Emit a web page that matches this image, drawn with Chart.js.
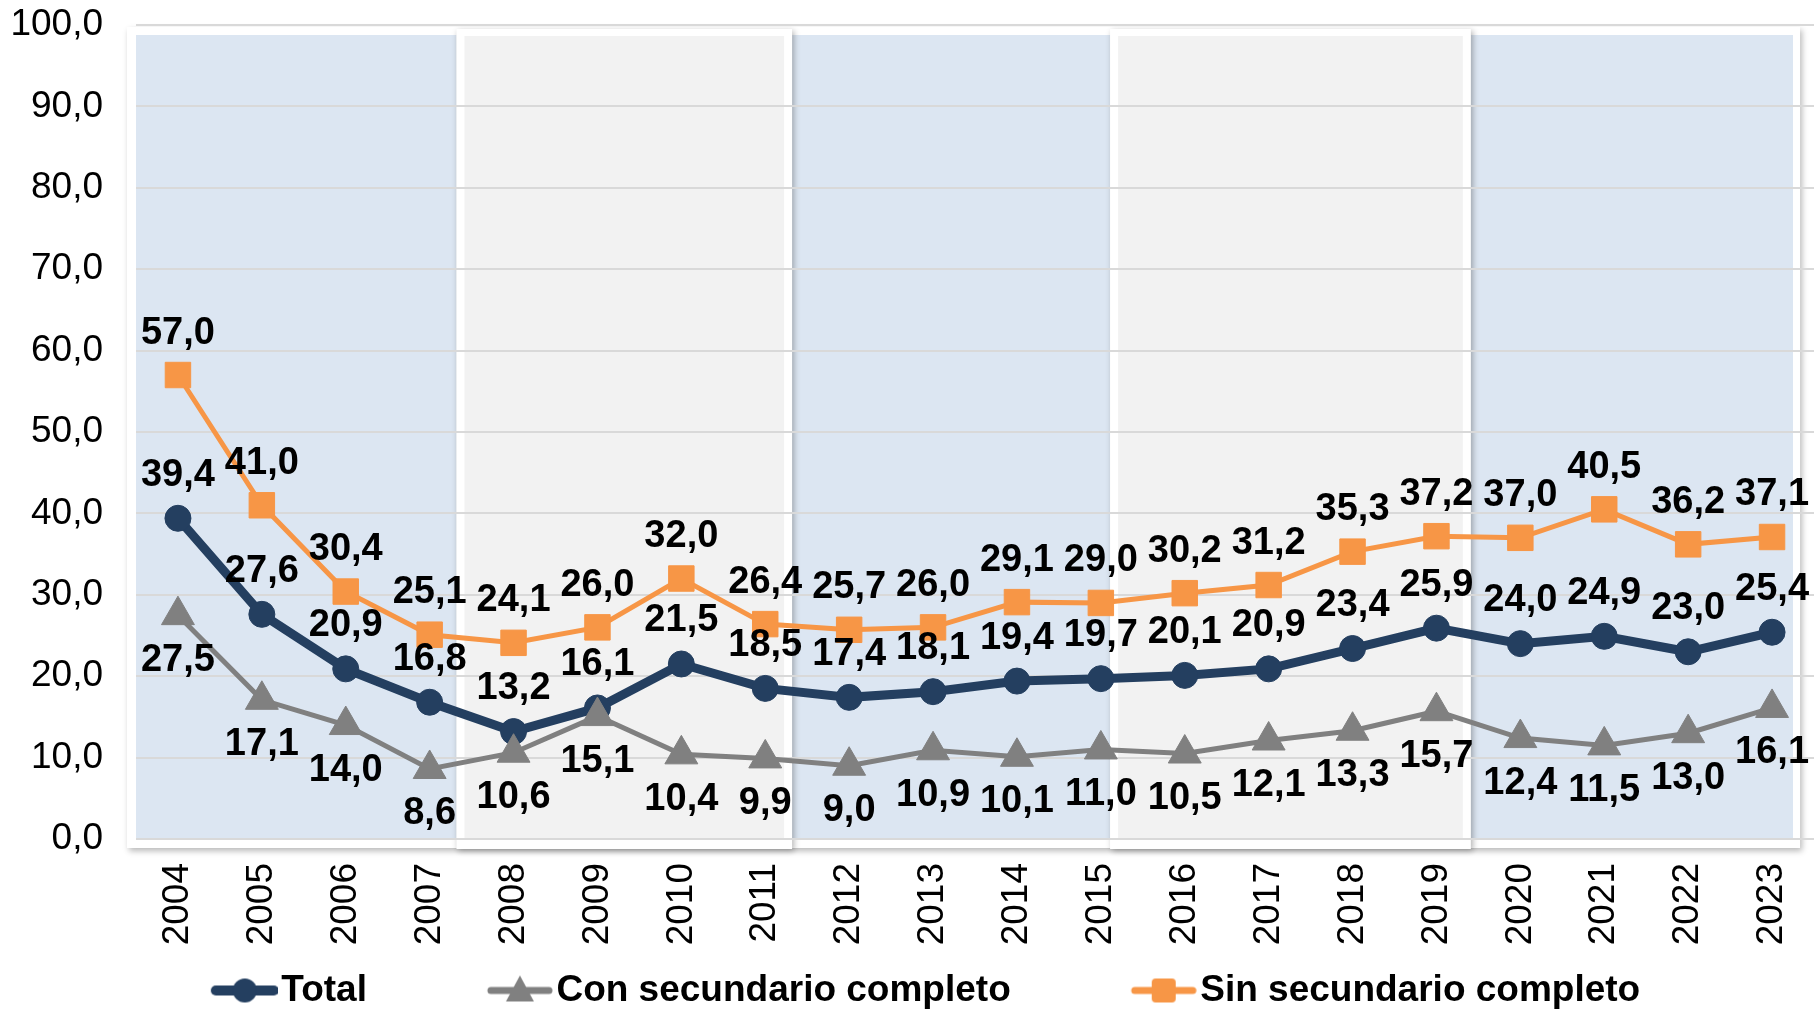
<!DOCTYPE html>
<html>
<head>
<meta charset="UTF-8">
<title>Tasa por nivel educativo 2004-2023</title>
<script src="https://cdn.jsdelivr.net/npm/chart.js@4.4.1/dist/chart.umd.min.js"></script>
<style>
  html, body { margin: 0; padding: 0; background: #fff; }
  #caja { width: 1814px; height: 1011px; }
</style>
</head>
<body>
<div id="caja"><canvas id="grafica"></canvas></div>
<script>
// datos
const anios = ['2004', '2005', '2006', '2007', '2008', '2009', '2010', '2011', '2012', '2013',
               '2014', '2015', '2016', '2017', '2018', '2019', '2020', '2021', '2022', '2023'];
const total = [39.4, 27.6, 20.9, 16.8, 13.2, 16.1, 21.5, 18.5, 17.4, 18.1,
               19.4, 19.7, 20.1, 20.9, 23.4, 25.9, 24.0, 24.9, 23.0, 25.4];
const conSecundario = [27.5, 17.1, 14.0, 8.6, 10.6, 15.1, 10.4, 9.9, 9.0, 10.9,
                       10.1, 11.0, 10.5, 12.1, 13.3, 15.7, 12.4, 11.5, 13.0, 16.1];
const sinSecundario = [57.0, 41.0, 30.4, 25.1, 24.1, 26.0, 32.0, 26.4, 25.7, 26.0,
                       29.1, 29.0, 30.2, 31.2, 35.3, 37.2, 37.0, 40.5, 36.2, 37.1];
const ejeY = { min: 0, max: 100, paso: 10 };

// franjas del fondo, en unidades de categoria
const franjas = [
  { desde: -0.5,  hasta: 3.32,  tipo: 'azul' },
  { desde: 3.32,  hasta: 7.32,  tipo: 'gris' },
  { desde: 7.32,  hasta: 11.11, tipo: 'azul' },
  { desde: 11.11, hasta: 15.41, tipo: 'gris' },
  { desde: 15.41, hasta: 19.25, tipo: 'azul' }
];

const AZUL = '#243F60', GRIS = '#808080', NARANJA = '#F79646';
const FUENTE = '"Liberation Sans", Arial, sans-serif';
const CAJA_LEYENDA = 167;

const coma = v => v.toFixed(1).replace('.', ',');

// icono de la leyenda: tramo de linea con su marcador
function icono(estilo, color, grosor) {
  const c = document.createElement('canvas');
  c.width = CAJA_LEYENDA + 30;
  c.height = 36;
  const g = c.getContext('2d');
  const x1 = c.width - 62, x2 = c.width - 4, cx = (x1 + x2) / 2, cy = 18;
  g.strokeStyle = color;
  g.fillStyle = color;
  g.lineWidth = grosor;
  g.lineCap = 'round';
  g.beginPath(); g.moveTo(x1, cy); g.lineTo(x2, cy); g.stroke();
  g.beginPath();
  if (estilo === 'circle') {
    g.arc(cx, cy, 12, 0, Math.PI * 2);
  } else if (estilo === 'triangle') {
    g.moveTo(cx, cy - 15); g.lineTo(cx + 14, cy + 11); g.lineTo(cx - 14, cy + 11); g.closePath();
  } else {
    g.roundRect(cx - 12, cy - 12, 24, 24, 4);
  }
  g.fill();
  return c;
}

const fondo = {
  id: 'fondo',
  afterLayout(chart) {
    // la leyenda queda algo corrida a la izquierda
    chart.legend.right -= 88;
  },
  beforeDraw(chart) {
    const { ctx, chartArea: a, scales: { x, y } } = chart;
    const arriba = y.getPixelForValue(ejeY.max);
    const cero = y.getPixelForValue(0);
    const fin = x.getPixelForValue(19.25);
    ctx.save();
    // panel blanco con sombra
    ctx.shadowColor = 'rgba(0,0,0,0.28)';
    ctx.shadowBlur = 6;
    ctx.shadowOffsetX = 2;
    ctx.shadowOffsetY = 3;
    ctx.fillStyle = '#fff';
    ctx.fillRect(a.left - 9, arriba + 2, fin + 7 - (a.left - 9), cero + 9 - (arriba + 2));
    ctx.shadowColor = 'transparent';
    // franjas azules
    ctx.fillStyle = '#DCE6F2';
    franjas.filter(f => f.tipo === 'azul').forEach(f => {
      const x0 = Math.max(a.left, x.getPixelForValue(f.desde));
      const x1 = x.getPixelForValue(f.hasta);
      ctx.fillRect(x0, arriba + 10, x1 - x0, cero - arriba - 10);
    });
    // tarjetas grises con borde blanco
    franjas.filter(f => f.tipo === 'gris').forEach(f => {
      const x0 = x.getPixelForValue(f.desde);
      const x1 = x.getPixelForValue(f.hasta);
      ctx.save();
      ctx.shadowColor = 'rgba(0,0,0,0.3)';
      ctx.shadowBlur = 6;
      ctx.shadowOffsetY = 2;
      ctx.fillStyle = '#fff';
      ctx.fillRect(x0, arriba + 4, x1 - x0, cero + 10 - arriba - 4);
      ctx.restore();
      ctx.fillStyle = '#F2F2F2';
      ctx.fillRect(x0 + 8, arriba + 11, x1 - x0 - 16, cero - arriba - 11);
    });
    ctx.restore();
  }
};

// etiquetas de valor sobre o bajo cada punto
const desplazamientos = [-43, 45, -42];
const etiquetas = {
  id: 'etiquetas',
  afterDatasetsDraw(chart) {
    const ctx = chart.ctx;
    ctx.save();
    ctx.font = 'bold 38px ' + FUENTE;
    ctx.fillStyle = '#000';
    ctx.textAlign = 'center';
    ctx.textBaseline = 'middle';
    chart.data.datasets.forEach((ds, i) => {
      const meta = chart.getDatasetMeta(i);
      meta.data.forEach((p, j) => {
        ctx.fillText(coma(ds.data[j]), p.x, p.y + desplazamientos[i]);
      });
    });
    ctx.restore();
  }
};

const iconos = [icono('circle', AZUL, 10), icono('triangle', GRIS, 7), icono('rect', NARANJA, 7)];

new Chart(document.getElementById('grafica'), {
  type: 'line',
  data: {
    labels: anios,
    datasets: [
      {
        label: 'Total', data: total, order: 1,
        borderColor: AZUL, backgroundColor: AZUL, borderWidth: 9,
        pointStyle: 'circle', pointRadius: 13, pointBorderWidth: 1
      },
      {
        label: 'Con secundario completo', data: conSecundario, order: 0,
        borderColor: GRIS, backgroundColor: GRIS, borderWidth: 5,
        pointStyle: 'triangle', pointRadius: 19, pointBorderWidth: 1
      },
      {
        label: 'Sin secundario completo', data: sinSecundario, order: 2,
        borderColor: NARANJA, backgroundColor: NARANJA, borderWidth: 5,
        pointStyle: 'rect', pointRadius: 18, pointBorderWidth: 1
      }
    ]
  },
  options: {
    responsive: true,
    maintainAspectRatio: false,
    animation: false,
    layout: { autoPadding: false, padding: { left: 10, right: 0, top: 25, bottom: -8 } },
    elements: { line: { tension: 0 } },
    scales: {
      x: {
        offset: true,
        grid: { display: false, drawTicks: false },
        border: { display: false },
        ticks: {
          color: '#000', font: { family: FUENTE, size: 37 },
          maxRotation: 90, minRotation: 90, padding: 24, autoSkip: false
        },
        afterFit: s => { s.height = 129; s.paddingLeft = 0; s.paddingRight = 0; }
      },
      y: {
        min: ejeY.min, max: ejeY.max,
        grid: { color: '#D9D9D9', lineWidth: 2, drawTicks: false },
        border: { display: false },
        ticks: {
          stepSize: ejeY.paso, color: '#000', padding: 33,
          font: { family: FUENTE, size: 37 },
          callback: v => coma(v)
        },
        afterFit: s => { s.width = 126; s.paddingTop = 0; s.paddingBottom = 0; }
      }
    },
    plugins: {
      tooltip: { enabled: false },
      legend: {
        position: 'bottom',
        labels: {
          usePointStyle: true,
          pointStyleWidth: CAJA_LEYENDA,
          padding: 4,
          color: '#000',
          font: { family: FUENTE, size: 37, weight: 'bold' },
          sort: (a, b) => a.datasetIndex - b.datasetIndex,
          generateLabels: chart => Chart.defaults.plugins.legend.labels.generateLabels(chart)
            .map(it => Object.assign(it, { pointStyle: iconos[it.datasetIndex] }))
        }
      }
    }
  },
  plugins: [fondo, etiquetas]
});
</script>
</body>
</html>
